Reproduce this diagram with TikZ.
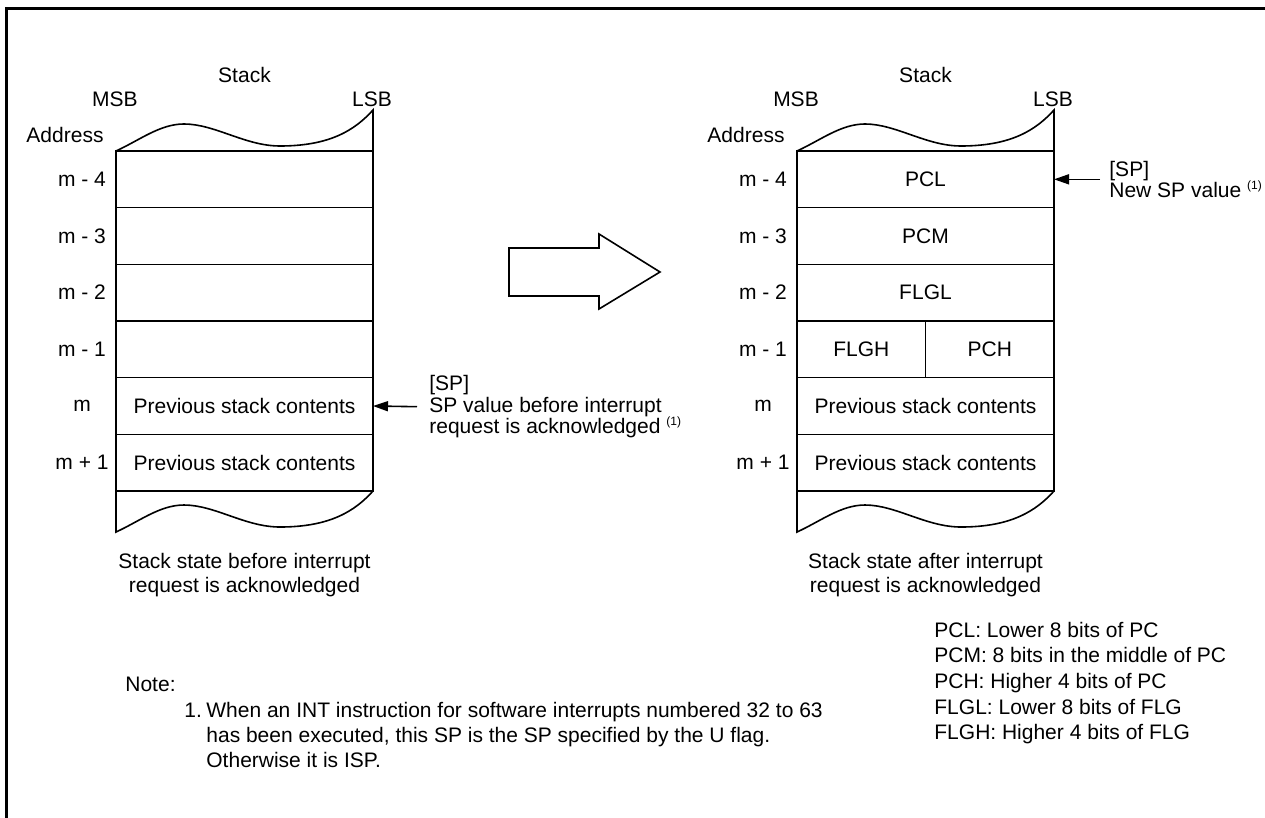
\documentclass[tikz,border=0pt]{standalone}
\usepackage{fontspec}
\setmainfont{Liberation Sans}
\usetikzlibrary{arrows.meta, positioning}

\tikzset{
  stackline/.style={line width=0.8pt},
  cell/.style={draw, stackline, rectangle, minimum width=128.5pt, minimum height=28.33pt, inner sep=0pt, outer sep=0pt},
  halfcell/.style={cell, minimum width=64.25pt},
  txt/.style={inner sep=0pt},
  ptr/.style={stackline, -{Triangle[length=7.5pt, width=5pt]}},
  wavetop/.pic={
    \draw[stackline] (257,0) -- (257,-41) .. controls (239,-21) and (214,-5) .. (164,-5)
      .. controls (129,-5) and (99,-27) .. (68,-27) .. controls (44,-27) and (24,-11) .. (0,0);
  },
  wavebot/.pic={
    \draw[stackline] (0,0) -- (0,41) .. controls (24,30) and (44,14) .. (68,14)
      .. controls (99,14) and (129,36) .. (164,36) .. controls (214,36) and (239,20) .. (257,0);
  }
}
\newcommand{\fnref}{\textsuperscript{\fontsize{6}{7}\selectfont (1)}}

\begin{document}
\begin{tikzpicture}[x=0.5pt, y=-0.5pt, font=\fontsize{10.5}{12}\selectfont]
  \useasboundingbox (0,0) rectangle (1265,818);
  % frame
  \draw[line width=1.5pt] (6.5,818) -- (6.5,8.5) -- (1265,8.5);

  % Stack before
  \node[txt] (lstk) at (244.5,75) {Stack};
  \node[txt] (lmsb) at (115,99) {MSB};
  \node[txt] (llsb) at (372,99) {LSB};
  \node[txt] (ladr) at (65,135) {Address};
  \foreach \i/\adr/\txt in {0/m - 4/, 1/m - 3/, 2/m - 2/, 3/m - 1/,
      4/m/Previous stack contents, 5/m + 1/Previous stack contents} {
    \node[cell] (L\i) at (244.5, 179.33+56.67*\i) {\txt};
    \node[txt] (La\i) at (82, 179.33+56.67*\i) {\adr};
  }
  \pic at (L0.north west) {wavetop};
  \pic at (L5.south west) {wavebot};
  \node[txt, align=center] (lcap) at (244.5,575) {Stack state before interrupt\\request is acknowledged};

  % SP before
  \coordinate (lsp) at (417,406.7);
  \draw[ptr] (lsp) -- (L4.east);
  \node[txt, anchor=west, align=left, font=\fontsize{10.5}{10.75}\selectfont] (lspt) at (429,406.7)
    {[SP]\\SP value before interrupt\\request is acknowledged \fnref};

  % big arrow
  \draw[stackline] (509,248) -- (599,248) -- (599,234) -- (660,272) -- (599,309)
    -- (599,296) -- (509,296) -- cycle;

  % Stack after
  \node[txt] (rstk) at (925.5,75) {Stack};
  \node[txt] (rmsb) at (796,99) {MSB};
  \node[txt] (rlsb) at (1053,99) {LSB};
  \node[txt] (radr) at (746,135) {Address};
  \foreach \i/\adr in {0/m - 4, 1/m - 3, 2/m - 2, 3/m - 1, 4/m, 5/m + 1}
    \node[txt] (Ra\i) at (763, 179.33+56.67*\i) {\adr};
  \foreach \i/\txt in {0/PCL, 1/PCM, 2/FLGL, 4/Previous stack contents, 5/Previous stack contents}
    \node[cell] (R\i) at (925.5, 179.33+56.67*\i) {\txt};
  \node[halfcell] (R3a) at (861.25,349.33) {FLGH};
  \node[halfcell] (R3b) at (989.75,349.33) {PCH};
  \pic at (R0.north west) {wavetop};
  \pic at (R5.south west) {wavebot};
  \node[txt, align=center] (rcap) at (925.5,575) {Stack state after interrupt\\request is acknowledged};

  % SP after
  \coordinate (rsp) at (1100,179.33);
  \draw[ptr] (rsp) -- (R0.east);
  \node[txt, anchor=west, align=left, font=\fontsize{10.5}{10.75}\selectfont] (rspt) at (1109,179.33)
    {[SP]\\New SP value \fnref};

  % legend
  \node[txt, anchor=west, align=left, font=\fontsize{10.5}{12.8}\selectfont] (legend) at (934,683)
    {PCL: Lower 8 bits of PC\\PCM: 8 bits in the middle of PC\\PCH: Higher 4 bits of PC\\
     FLGL: Lower 8 bits of FLG\\FLGH: Higher 4 bits of FLG};

  % note
  \node[txt, anchor=west] (note) at (125,684) {Note:};
  \node[txt, anchor=west] (num) at (184,710) {1.};
  \node[txt, anchor=west, align=left, font=\fontsize{10.5}{12.5}\selectfont] (ntext) at (206,735)
    {When an INT instruction for software interrupts numbered 32 to 63\\
     has been executed, this SP is the SP specified by the U flag.\\
     Otherwise it is ISP.};
\end{tikzpicture}
\end{document}
